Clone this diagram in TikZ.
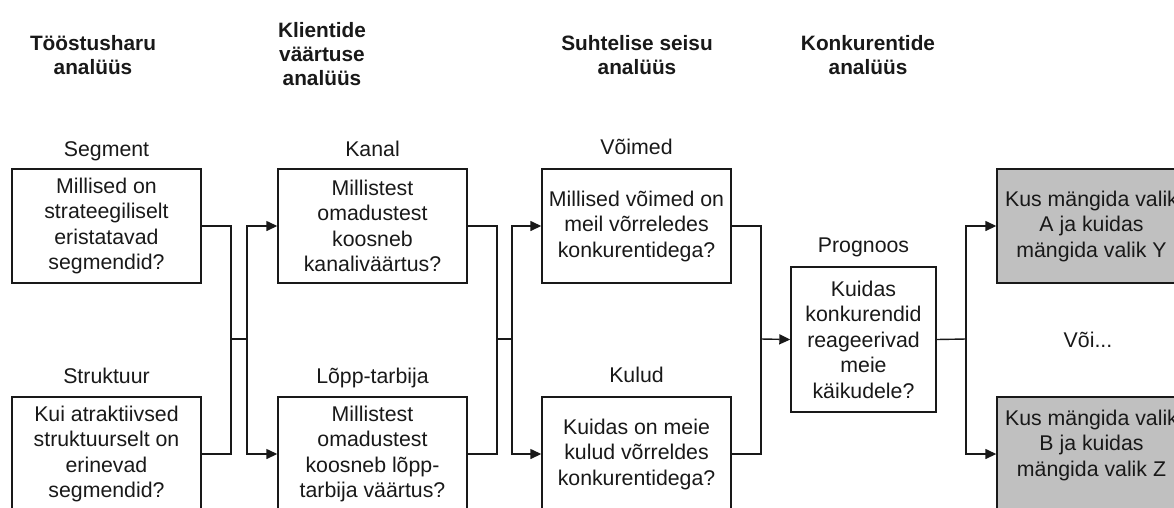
\documentclass[tikz,border=0pt]{standalone}
\usepackage{fontspec}
\setmainfont{Liberation Sans}
\usetikzlibrary{arrows.meta}
\definecolor{ink}{RGB}{25,25,25}
\definecolor{boxgray}{RGB}{192,192,192}
\begin{document}
\begin{tikzpicture}[x=1pt,y=-1pt,
  box/.style={draw=ink, line width=1.4pt, fill=white, minimum width=189pt,
    minimum height=114pt, align=center, inner sep=0pt, text=ink,
    font=\fontsize{21.3}{25.5}\selectfont},
  result/.style={box, fill=boxgray},
  lbl/.style={text=ink, inner sep=0pt, anchor=base,
    font=\fontsize{21.3}{25.5}\selectfont},
  hdr/.style={text=ink, align=center, inner sep=0pt,
    font=\bfseries\fontsize{20.8}{24}\selectfont},
  conn/.style={draw=ink, line width=1.4pt},
  arr/.style={conn, -{Triangle[length=11pt,width=10pt]}}]
\useasboundingbox (0,0) rectangle (1174,507);
\fill[white] (0,0) rectangle (1174,507);

% column headings
\node[hdr] (h1) at (93,55) {Tööstusharu\\analüüs};
\node[hdr] (h2) at (322,54) {Klientide\\väärtuse\\analüüs};
\node[hdr] (h3) at (637,55) {Suhtelise seisu\\analüüs};
\node[hdr] (h4) at (868,55) {Konkurentide\\analüüs};

% question boxes
\node[box] (seg) at (106.5,226) {Millised on\\strateegiliselt\\eristatavad\\segmendid?};
\node[box] (str) at (106.5,454) {Kui atraktiivsed\\struktuurselt on\\erinevad\\segmendid?};
\node[box] (kan) at (372.5,226) {Millistest\\omadustest\\koosneb\\kanaliväärtus?};
\node[box] (lop) at (372.5,454) {Millistest\\omadustest\\koosneb lõpp-\\tarbija väärtus?};
\node[box] (voi) at (636.5,226) {Millised võimed on\\meil võrreledes\\konkurentidega?};
\node[box] (kul) at (636.5,454) {Kuidas on meie\\kulud võrreldes\\konkurentidega?};
\node[box, minimum width=145pt, minimum height=145pt] (prog) at (863.5,339.5)
  {Kuidas\\konkurendid\\reageerivad\\meie\\käikudele?};
\node[result] (resA) at (1091.5,226) {Kus mängida valik\\A ja kuidas\\mängida valik Y};
\node[result] (resB) at (1091.5,454) {Kus mängida valik\\B ja kuidas\\mängida valik Z\\[-4pt]\mbox{}};

% box titles, set on a common baseline above each box
\node[lbl] (segL) at ([yshift=12pt]seg.north) {Segment};
\node[lbl] (strL) at ([yshift=13pt]str.north) {Struktuur};
\node[lbl] (kanL) at ([yshift=12pt]kan.north) {Kanal};
\node[lbl] (lopL) at ([yshift=13pt]lop.north) {Lõpp-tarbija};
\node[lbl] (voiL) at ([yshift=14pt]voi.north) {Võimed};
\node[lbl] (kulL) at ([yshift=14pt]kul.north) {Kulud};
\node[lbl] (progL) at ([yshift=14pt]prog.north) {Prognoos};
\node[lbl, anchor=center] (or) at (1088,340) {Või...};

% junction points of the connectors
\coordinate (j1) at (231,339);
\coordinate (s1) at (247,339);
\coordinate (j2) at (497,339);
\coordinate (s2) at (512,339);
\coordinate (j3) at (761,339);
\coordinate (j4) at (966,339);

\draw[conn] (seg.east) -| (j1) |- (str.east);
\draw[conn] (j1) -- (s1);
\draw[arr] (s1) |- (kan.west);
\draw[arr] (s1) |- (lop.west);

\draw[conn] (kan.east) -| (j2) |- (lop.east);
\draw[conn] (j2) -- (s2);
\draw[arr] (s2) |- (voi.west);
\draw[arr] (s2) |- (kul.west);

\draw[conn] (voi.east) -| (j3) |- (kul.east);
\draw[arr] (j3) -- (prog.west);

\draw[conn] (prog.east) -- (j4);
\draw[arr] (j4) |- (resA.west);
\draw[arr] (j4) |- (resB.west);
\end{tikzpicture}
\end{document}
